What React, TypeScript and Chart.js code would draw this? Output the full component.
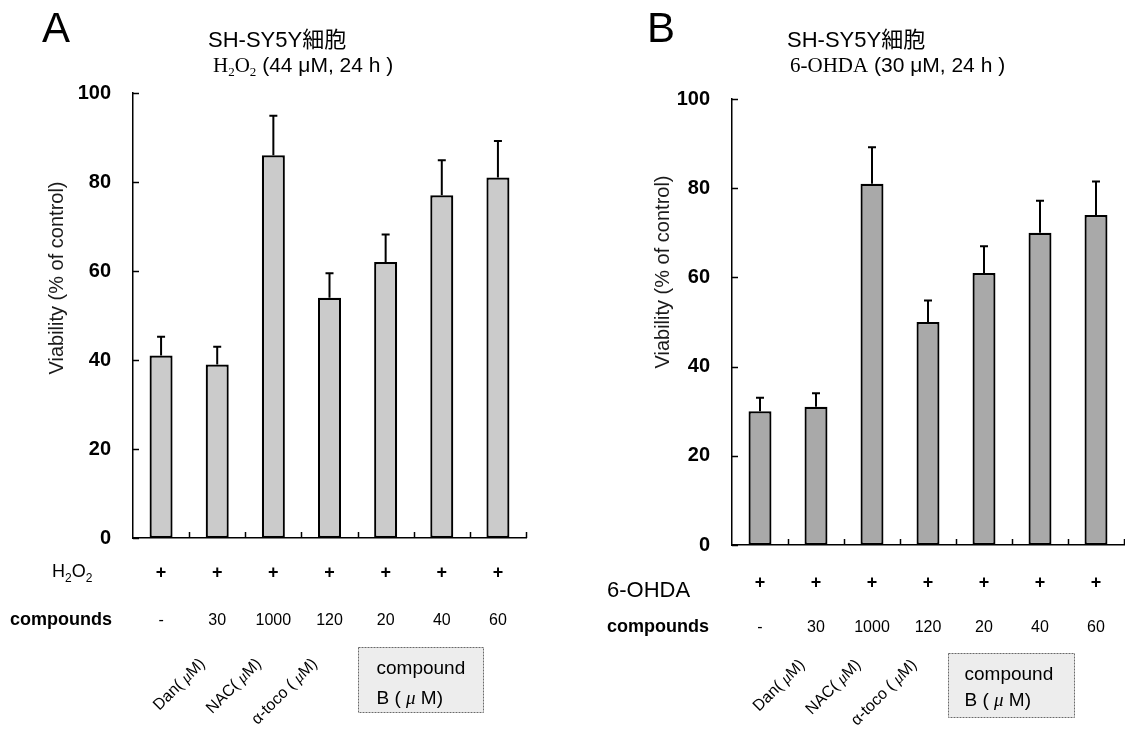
import React, { useEffect, useRef } from 'react';
import { Chart, registerables } from 'chart.js';

Chart.register(...registerables);

// ---------------- data ----------------
const categories = ['control', 'Dan', 'NAC', 'α-toco', 'B20', 'B40', 'B60'];
const plusRow = ['+', '+', '+', '+', '+', '+', '+'];
const doseLabels = ['-', '30', '1000', '120', '20', '40', '60'];
const rotatedNames = ['', 'Dan', 'NAC', 'α-toco ', '', '', ''];
const yTickValues = [0, 20, 40, 60, 80, 100];

const viabilityA = [41, 39, 86, 54, 62, 77, 81];
const errorA = [4.2, 4.0, 8.9, 5.5, 6.2, 7.9, 8.2];

const viabilityB = [30, 31, 81, 50, 61, 70, 74];
const errorB = [3.0, 3.0, 8.2, 4.8, 6.0, 7.2, 7.5];

const yAxisTitle = 'Viability (% of control)';
const cellTitle = 'SH-SY5Y細胞';
const boxLine1 = 'compound';

// ---------------- fonts ----------------
const SANS = "'Liberation Sans', Arial, 'Noto Sans CJK JP', sans-serif";
const NARROW = "'Liberation Sans Narrow', 'Arial Narrow', 'Liberation Sans', Arial, sans-serif";
const SERIF = "'Liberation Serif', 'Times New Roman', serif";

type Seg = { t: string; font: string; dy?: number };

function drawSegs(ctx: CanvasRenderingContext2D, segs: Seg[], x: number, y: number, align: 'left' | 'right' | 'center' = 'left') {
  ctx.textBaseline = 'alphabetic';
  ctx.textAlign = 'left';
  const widths = segs.map((s) => {
    ctx.font = s.font;
    return ctx.measureText(s.t).width;
  });
  const total = widths.reduce((a, b) => a + b, 0);
  let cx = align === 'left' ? x : align === 'right' ? x - total : x - total / 2;
  segs.forEach((s, i) => {
    ctx.font = s.font;
    ctx.fillText(s.t, cx, y + (s.dy || 0));
    cx += widths[i];
  });
}

type PanelSpec = {
  letter: string;
  letterX: number;
  values: number[];
  errors: number[];
  color: string;
  canvasWidth: number;
  padTop: number;
  padRight: number;
  yAxisWidth: number;
  xAxisHeight: number;
  titleX1: number;
  titleX2: number;
  title2: Seg[];
  yTitleX: number;
  yTitleY: number;
  rowLabel: Seg[];
  rowLabelX: number;
  rowLabelBase: number;
  plusBase: number;
  compLabelX: number;
  compBase: number;
  rotDx: number;
  rotY: number;
  boxDx: number;
  boxY: number;
  boxW: number;
  boxH: number;
  boxTextDx: number;
  boxBase1: number;
  boxBase2: number;
};

const specA: PanelSpec = {
  letter: 'A',
  letterX: 42,
  values: viabilityA,
  errors: errorA,
  color: '#cbcbcb',
  canvasWidth: 562,
  padTop: 93,
  padRight: 36,
  yAxisWidth: 133,
  xAxisHeight: 197,
  titleX1: 208,
  titleX2: 213,
  title2: [
    { t: 'H', font: `21px ${SERIF}` },
    { t: '2', font: `13px ${SERIF}`, dy: 4 },
    { t: 'O', font: `21px ${SERIF}` },
    { t: '2', font: `13px ${SERIF}`, dy: 4 },
    { t: ' (44 μM, 24 h )', font: `21px ${SANS}` },
  ],
  yTitleX: 57,
  yTitleY: 278,
  rowLabel: [
    { t: 'H', font: `18px ${SANS}` },
    { t: '2', font: `12px ${SANS}`, dy: 5 },
    { t: 'O', font: `18px ${SANS}` },
    { t: '2', font: `12px ${SANS}`, dy: 5 },
  ],
  rowLabelX: 52,
  rowLabelBase: 577,
  plusBase: 578,
  compLabelX: 10,
  compBase: 625,
  rotDx: -15,
  rotY: 661,
  boxDx: 0,
  boxY: 647,
  boxW: 125,
  boxH: 65,
  boxTextDx: 18,
  boxBase1: 674,
  boxBase2: 704,
};

const specB: PanelSpec = {
  letter: 'B',
  letterX: 85,
  values: viabilityB,
  errors: errorB,
  color: '#a9a9a9',
  canvasWidth: 563,
  padTop: 99,
  padRight: 1,
  yAxisWidth: 170,
  xAxisHeight: 190,
  titleX1: 225,
  titleX2: 228,
  title2: [
    { t: '6-OHDA', font: `21px ${SERIF}` },
    { t: ' (30 μM, 24 h )', font: `21px ${SANS}` },
  ],
  yTitleX: 101,
  yTitleY: 272,
  rowLabel: [{ t: '6-OHDA', font: `22px ${SANS}` }],
  rowLabelX: 45,
  rowLabelBase: 597,
  plusBase: 588,
  compLabelX: 45,
  compBase: 632,
  rotDx: -14,
  rotY: 662,
  boxDx: -8,
  boxY: 653,
  boxW: 126,
  boxH: 64,
  boxTextDx: 16,
  boxBase1: 680,
  boxBase2: 706,
};

function annotationPlugin(p: PanelSpec) {
  return {
    id: 'annot' + p.letter,
    afterDraw(chart: any) {
      const { ctx, chartArea } = chart;
      const x = chart.scales.x;
      const y = chart.scales.y;
      ctx.save();
      ctx.fillStyle = '#000';
      ctx.strokeStyle = '#000';

      // error bars (upper only)
      const meta = chart.getDatasetMeta(0);
      ctx.lineWidth = 2;
      meta.data.forEach((bar: any, i: number) => {
        const top = y.getPixelForValue(p.values[i] + p.errors[i]);
        ctx.beginPath();
        ctx.moveTo(bar.x, bar.y);
        ctx.lineTo(bar.x, top);
        ctx.moveTo(bar.x - 4, top);
        ctx.lineTo(bar.x + 4, top);
        ctx.stroke();
      });

      // inward ticks on y axis
      ctx.lineWidth = 1.5;
      yTickValues.forEach((v) => {
        const py = Math.round(y.getPixelForValue(v)) + 0.5;
        ctx.beginPath();
        ctx.moveTo(chartArea.left, py);
        ctx.lineTo(chartArea.left + 6, py);
        ctx.stroke();
      });
      // inward ticks on x axis at category boundaries
      for (let i = 1; i <= categories.length; i++) {
        const px = Math.round(x.getPixelForValue(i - 0.5)) + 0.5;
        ctx.beginPath();
        ctx.moveTo(px, chartArea.bottom);
        ctx.lineTo(px, chartArea.bottom - 6);
        ctx.stroke();
      }

      // panel letter and titles
      drawSegs(ctx, [{ t: p.letter, font: `42px ${SANS}` }], p.letterX, 42);
      drawSegs(ctx, [{ t: cellTitle, font: `22px ${SANS}` }], p.titleX1, 47);
      drawSegs(ctx, p.title2, p.titleX2, 72);

      // y axis title
      ctx.save();
      ctx.translate(p.yTitleX, p.yTitleY);
      ctx.rotate(-Math.PI / 2);
      ctx.fillStyle = '#1a1a1a';
      ctx.font = `20px ${SANS}`;
      ctx.textAlign = 'center';
      ctx.textBaseline = 'middle';
      ctx.fillText(yAxisTitle, 0, 0);
      ctx.restore();

      // treatment row
      drawSegs(ctx, p.rowLabel, p.rowLabelX, p.rowLabelBase);
      plusRow.forEach((s, i) => {
        drawSegs(ctx, [{ t: s, font: `bold 18px ${SANS}` }], x.getPixelForValue(i), p.plusBase, 'center');
      });

      // compounds row
      drawSegs(ctx, [{ t: 'compounds', font: `bold 18px ${SANS}` }], p.compLabelX, p.compBase);
      doseLabels.forEach((s, i) => {
        drawSegs(ctx, [{ t: s, font: `16px ${SANS}` }], x.getPixelForValue(i), p.compBase, 'center');
      });

      // rotated compound names
      rotatedNames.forEach((name, i) => {
        if (!name) return;
        ctx.save();
        ctx.translate(x.getPixelForValue(i) + p.rotDx, p.rotY);
        ctx.rotate(-Math.PI / 4);
        drawSegs(
          ctx,
          [
            { t: name + '( ', font: `16px ${SANS}` },
            { t: 'μ', font: `italic 16px ${SERIF}` },
            { t: 'M)', font: `16px ${SANS}` },
          ],
          0,
          5,
          'right'
        );
        ctx.restore();
      });

      // compound B box
      const bx = Math.round(x.getPixelForValue(3.5) + p.boxDx) + 0.5;
      ctx.fillStyle = '#ededed';
      ctx.fillRect(bx, p.boxY, p.boxW, p.boxH);
      ctx.setLineDash([2, 1]);
      ctx.lineWidth = 1;
      ctx.strokeStyle = '#6a6a6a';
      ctx.strokeRect(bx, p.boxY + 0.5, p.boxW, p.boxH);
      ctx.setLineDash([]);
      ctx.fillStyle = '#000';
      drawSegs(ctx, [{ t: boxLine1, font: `19px ${SANS}` }], bx + p.boxTextDx, p.boxBase1);
      drawSegs(
        ctx,
        [
          { t: 'B ( ', font: `19px ${SANS}` },
          { t: 'μ', font: `italic 19px ${SERIF}` },
          { t: ' M)', font: `19px ${SANS}` },
        ],
        bx + p.boxTextDx,
        p.boxBase2
      );
      ctx.restore();
    },
  };
}

function makeConfig(p: PanelSpec): any {
  return {
    type: 'bar',
    data: {
      labels: categories,
      datasets: [
        {
          data: p.values,
          backgroundColor: p.color,
          borderColor: '#000',
          borderWidth: 2.2,
          borderSkipped: false,
          barPercentage: 0.41,
          categoryPercentage: 1,
        },
      ],
    },
    options: {
      responsive: false,
      animation: false,
      events: [],
      layout: { padding: { left: 0, top: p.padTop, right: p.padRight, bottom: 0 } },
      plugins: { legend: { display: false }, tooltip: { enabled: false }, title: { display: false } },
      scales: {
        x: {
          grid: { display: false },
          border: { display: true, color: '#000', width: 1.5 },
          ticks: { display: false },
          afterFit: (s: any) => {
            s.height = p.xAxisHeight;
          },
        },
        y: {
          min: 0,
          max: 100,
          grid: { display: false },
          border: { display: true, color: '#000', width: 1.5 },
          ticks: {
            stepSize: 20,
            color: '#000',
            padding: 14,
            font: { family: NARROW, size: 20, weight: 'bold' },
          },
          afterFit: (s: any) => {
            s.width = p.yAxisWidth;
          },
        },
      },
    },
    plugins: [annotationPlugin(p)],
  };
}

function Panel({ spec, left }: { spec: PanelSpec; left: number }) {
  const ref = useRef<HTMLCanvasElement>(null);
  useEffect(() => {
    if (!ref.current) return;
    const chart = new Chart(ref.current, makeConfig(spec));
    return () => chart.destroy();
  }, [spec]);
  return (
    <canvas
      ref={ref}
      width={spec.canvasWidth}
      height={735}
      style={{ position: 'absolute', left, top: 0, width: spec.canvasWidth, height: 735 }}
    />
  );
}

export default function App() {
  return (
    <div style={{ position: 'fixed', left: 0, top: 0, width: 1125, height: 735, background: '#fff', overflow: 'hidden' }}>
      <Panel spec={specA} left={0} />
      <Panel spec={specB} left={562} />
    </div>
  );
}
